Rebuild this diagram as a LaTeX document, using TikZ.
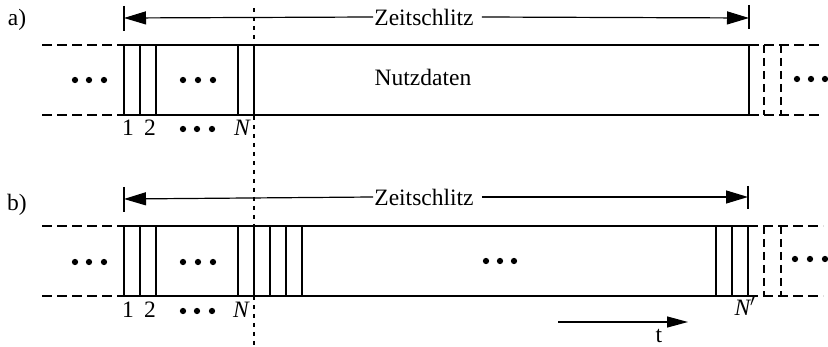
\documentclass[tikz,border=0pt]{standalone}
\usepackage{fontspec}
\setmainfont{Liberation Serif}
\usetikzlibrary{arrows.meta}
\begin{document}
\begin{tikzpicture}[x=1pt,y=-1pt,
  every node/.style={font=\fontsize{23.5}{27}\selectfont, inner sep=1pt},
  frame/.style={line width=1.2pt},
  ghost/.style={line width=1.2pt, dash pattern=on 10pt off 5pt},
  ghostv/.style={line width=1.2pt, dash pattern=on 8pt off 5pt},
  marker/.style={line width=1.1pt, dash pattern=on 4pt off 5pt},
  span/.style={line width=1.2pt, -{Triangle[length=22pt,width=13pt]}},
  timearrow/.style={line width=1.2pt, -{Triangle[length=21pt,width=11pt]}},
  dot/.style={circle, fill, inner sep=0pt, minimum size=6.3pt},
]
\useasboundingbox (0,0) rectangle (828,347);

% ---------- a) ----------
\node (la) at (17,20) {a)};
\coordinate (aL) at (124,18);
\coordinate (aR) at (749,18);
\draw[frame] (124,6) -- (124,31);
\draw[frame] (749,5) -- (749,29);
\node (za) at (424,17) {Zeitschlitz};
\draw[span] (za.west) -- (aL);
\draw[span] ([xshift=7pt]za.east) -- (aR);

% frame of the slot
\draw[frame] (124,45) -- (749,45);
\draw[frame] (124,115) -- (749,115);
\foreach \x in {124,140,156,238,254,749}
  \draw[frame] (\x,45) -- (\x,115);
\draw[ghost] (42,45) -- (124,45);
\draw[ghost] (42,115) -- (124,115);
\draw[ghost] (749,45) -- (823,45);
\draw[ghost] (749,115) -- (823,115);
\foreach \x in {764,781}
  \draw[ghostv] (\x,45) -- (\x,115);

\node (nd) at (423,77) {Nutzdaten};
\foreach \x [count=\i] in {75,89,104}   \node[dot] (adl\i) at (\x,80) {};
\foreach \x [count=\i] in {183,198,213} \node[dot] (adm\i) at (\x,80) {};
\foreach \x [count=\i] in {797,811,825} \node[dot] (adr\i) at (\x,79) {};

\node (a1) at (128,128) {1};
\node (a2) at (150,128) {2};
\foreach \x [count=\i] in {183,197,212} \node[dot] (adb\i) at (\x,129) {};
\node (aN) at (242,128) {\itshape N};

% reference instant through both rows
\draw[marker] (254,8) -- (254,347);

% ---------- b) ----------
\node (lb) at (17,205) {b)};
\coordinate (bL) at (124,199);
\coordinate (bR) at (748,197);
\draw[frame] (124,187) -- (124,212);
\draw[frame] (748,186) -- (748,209);
\node (zb) at (424,197) {Zeitschlitz};
\draw[span] (zb.west) -- (bL);
\draw[span] ([xshift=7pt]zb.east) -- (bR);

\draw[frame] (124,226) -- (748,226);
\draw[frame] (124,296) -- (748,296);
\foreach \x in {124,140,156,238,254,270,286,302,716,732,748}
  \draw[frame] (\x,226) -- (\x,296);
\draw[ghost] (42,226) -- (124,226);
\draw[ghost] (42,296) -- (124,296);
\draw[ghost] (748,226) -- (823,226);
\draw[ghost] (748,296) -- (823,296);
\foreach \x in {764,781}
  \draw[ghostv] (\x,226) -- (\x,296);

\foreach \x [count=\i] in {75,89,104}   \node[dot] (bdl\i) at (\x,262) {};
\foreach \x [count=\i] in {183,198,213} \node[dot] (bdm\i) at (\x,262) {};
\foreach \x [count=\i] in {486,500,514} \node[dot] (bdc\i) at (\x,261) {};
\foreach \x [count=\i] in {795,810,825} \node[dot] (bdr\i) at (\x,259) {};

\node (b1) at (128,310) {1};
\node (b2) at (150,310) {2};
\foreach \x [count=\i] in {183,197,212} \node[dot] (bdb\i) at (\x,311) {};
\node (bN) at (241,310) {\itshape N};
\node (bNp) at (745,306) {\itshape N$'$};

% time axis
\coordinate (t0) at (558,322);
\coordinate (t1) at (688,322);
\draw[timearrow] (t0) -- (t1);
\node (tl) at (659,336) {t};
\end{tikzpicture}
\end{document}
